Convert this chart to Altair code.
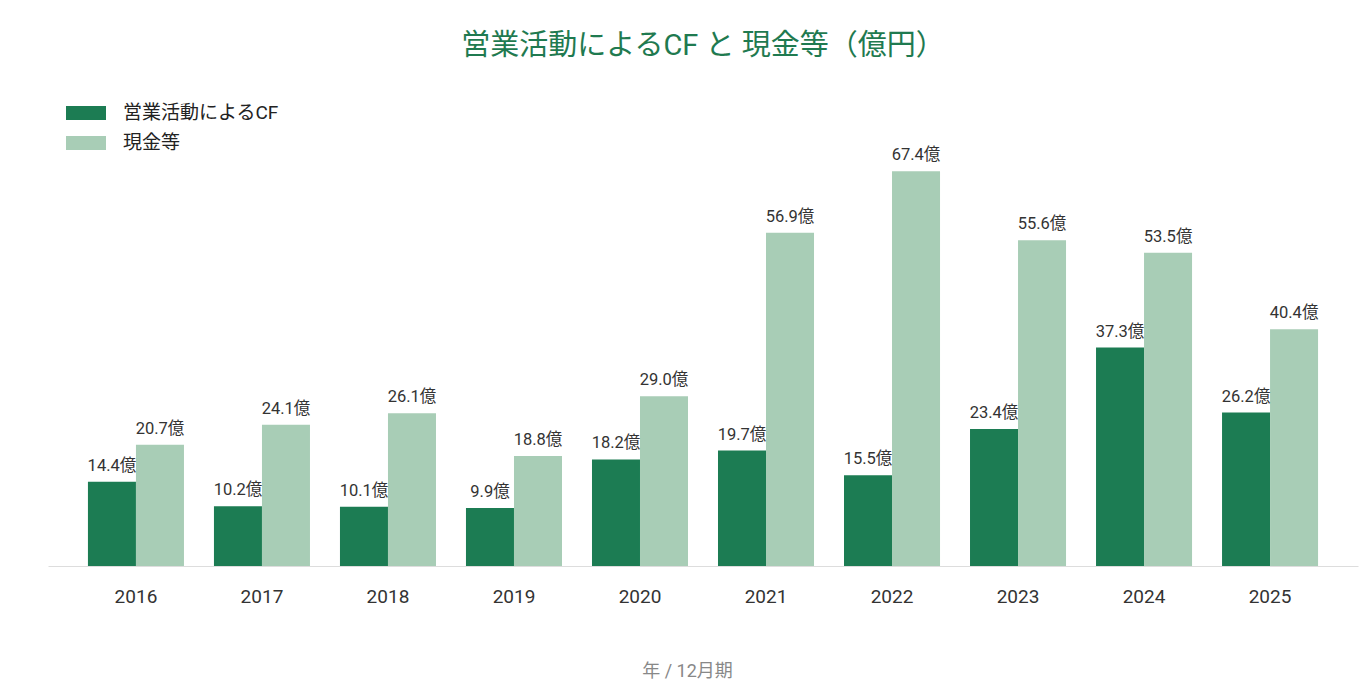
import altair as alt
import pandas as pd

years = ["2016", "2017", "2018", "2019", "2020", "2021", "2022", "2023", "2024", "2025"]
operating_cf = [14.4, 10.2, 10.1, 9.9, 18.2, 19.7, 15.5, 23.4, 37.3, 26.2]
cash = [20.7, 24.1, 26.1, 18.8, 29.0, 56.9, 67.4, 55.6, 53.5, 40.4]
series = ["営業活動によるCF", "現金等"]
colors = ["#1c7c53", "#a8cdb6"]

FONT = "Roboto, 'Noto Sans CJK JP'"

rows = []
for i, y in enumerate(years):
    rows.append({"year": y, "series": series[0], "value": operating_cf[i]})
    rows.append({"year": y, "series": series[1], "value": cash[i]})
df = pd.DataFrame(rows)
df["label"] = df["value"].map(lambda v: f"{v:.1f}億")

x = alt.X("year:N", sort=years,
          scale=alt.Scale(paddingInner=0.238, paddingOuter=0.317),
          axis=alt.Axis(title="年 / 12月期", labelAngle=0, ticks=False,
                        domainColor="#dddddd", labelFontSize=19,
                        labelColor="#333333", labelPadding=21,
                        titleFontSize=18, titleColor="#888888",
                        titleFontWeight="normal", titlePadding=56,
                        titleX=639, titleAlign="center"))
xoff = alt.XOffset("series:N", sort=series, scale=alt.Scale(paddingInner=0, paddingOuter=0))
y = alt.Y("value:Q", scale=alt.Scale(domain=[0, 70], nice=False), axis=None)

base = alt.Chart(df).encode(x=x, xOffset=xoff, y=y)

bars = base.mark_bar().encode(
    color=alt.Color("series:N", sort=series,
                    scale=alt.Scale(domain=series, range=colors),
                    legend=alt.Legend(title=None, orient="none", legendX=18,
                                      legendY=-63, direction="vertical",
                                      symbolType="M-1,-0.35L1,-0.35L1,0.35L-1,0.35Z",
                                      symbolSize=1600, symbolStrokeWidth=0,
                                      labelFontSize=19, labelColor="#222222",
                                      labelOffset=17, rowPadding=0))
)

labels = base.mark_text(baseline="bottom", dy=-8, fontSize=16.5, color="#333333").encode(
    text="label:N"
)

chart = (bars + labels).properties(
    width=1310, height=410,
    autosize=alt.AutoSizeParams(type="none"),
    padding={"left": 40, "top": 148, "right": 6, "bottom": 120},
    title=alt.TitleParams("営業活動によるCF と 現金等（億円）", fontSize=29,
                          color="#1f7a50", fontWeight="normal", offset=32,
                          anchor="middle"),
).configure(font=FONT).configure_view(stroke=None)

chart.save("out.html", embed_options={"renderer": "svg", "actions": False})
